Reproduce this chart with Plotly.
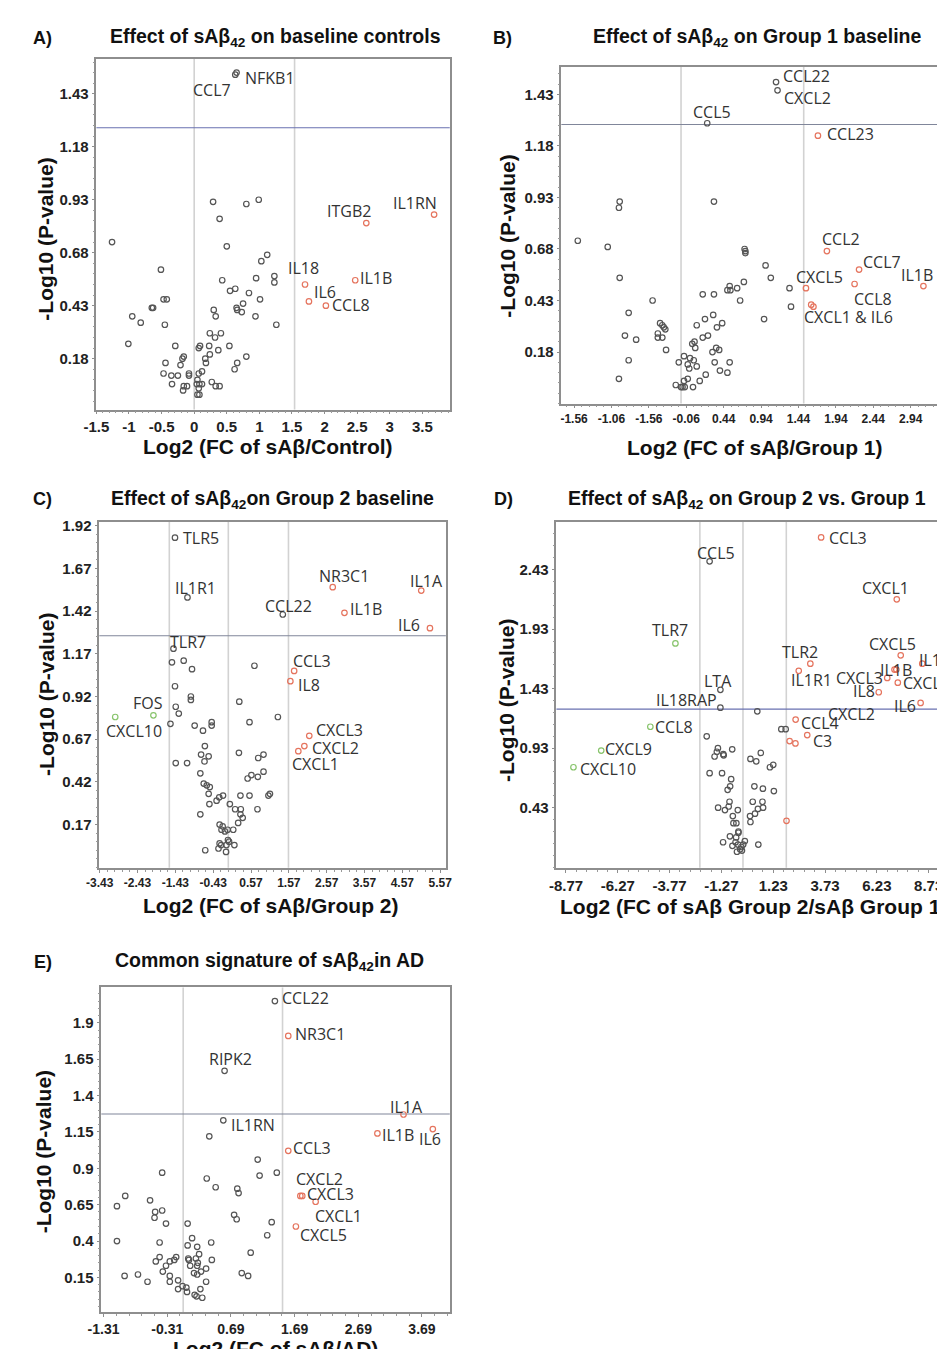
import plotly.graph_objects as go

W, H = 945, 1349
AX_FONT = "Liberation Sans, Arial, sans-serif"
LAB_FONT = "Open Sans, sans-serif"

# ---------------- Panel A : sAb42 vs baseline controls ----------------
A_x = [-1.26, -0.51, 0.29, 0.80, 0.99, 0.39, 0.50, 1.12, 1.03, 1.23, 1.23, 0.95, 0.43, 0.63, 0.55, 0.84,
       1.01, 0.75, 0.65, 0.66, 0.73, 0.94, 1.26, 0.30, 0.33, -0.47, -0.42, -0.65, -0.63, -0.95, -0.82, -0.45,
       -1.01, -0.29, 0.24, 0.32, 0.41, 0.07, 0.09, 0.23, 0.37, 0.54, 0.17, 0.18, 0.24, 0.80, 0.66, 0.62,
       -0.16, -0.18, -0.21, -0.44, -0.47, -0.35, -0.25, -0.08, -0.08, 0.07, 0.12, -0.34, -0.17, -0.16, -0.11,
       0.04, 0.08, 0.12, 0.05, 0.07, 0.05, 0.08, 0.27, 0.33, 0.39]
A_y = [0.73, 0.60, 0.92, 0.91, 0.93, 0.84, 0.71, 0.67, 0.64, 0.57, 0.54, 0.56, 0.55, 0.51, 0.50, 0.49,
       0.46, 0.44, 0.42, 0.41, 0.40, 0.38, 0.34, 0.41, 0.38, 0.46, 0.46, 0.42, 0.42, 0.38, 0.35, 0.34,
       0.25, 0.24, 0.30, 0.28, 0.30, 0.23, 0.24, 0.24, 0.22, 0.24, 0.18, 0.16, 0.20, 0.19, 0.16, 0.13,
       0.19, 0.18, 0.15, 0.16, 0.11, 0.10, 0.10, 0.11, 0.10, 0.11, 0.12, 0.06, 0.03, 0.05, 0.05,
       0.06, 0.06, 0.06, 0.08, 0.04, 0.01, 0.01, 0.07, 0.05, 0.05]
A_gene = ["CCL7", "NFKB1", "ITGB2", "IL1RN", "IL18", "IL6", "CCL8", "IL1B"]
A_gene_x = [0.63, 0.65, 2.64, 3.68, 1.70, 1.76, 2.02, 2.47]
A_gene_y = [1.52, 1.53, 0.82, 0.86, 0.53, 0.45, 0.43, 0.55]
A_gene_dir = ["ns", "ns", "up", "up", "up", "up", "up", "up"]
A_xtick = [-1.5, -1, -0.5, 0, 0.5, 1, 1.5, 2, 2.5, 3, 3.5]
A_xtext = ["-1.5", "-1", "-0.5", "0", "0.5", "1", "1.5", "2", "2.5", "3", "3.5"]
A_ytick = [0.18, 0.43, 0.68, 0.93, 1.18, 1.43]
A_vlines = [0.0, 1.54]
A_hline = 1.27

# ---------------- Panel B : Group 1 baseline ----------------
B_x = [-1.51, -0.95, -0.96, -1.11, -0.95, -0.51, 0.31, -0.83, -0.88, -0.73, -0.83, -0.96, -0.41, -0.38, -0.36,
       -0.34, -0.44, -0.44, -0.38, -0.33, -0.20, -0.16, -0.13, -0.11, -0.08, -0.09, -0.09, -0.04, -0.04, -0.02,
       -0.01, 0.04, 0.03, 0.08, 0.12, 0.20, 0.06, 0.05, 0.02, 0.08, 0.16, 0.19, 0.23, 0.30, 0.35, 0.42, 0.29,
       0.34, 0.38, 0.32, 0.39, 0.52, 0.49, 0.16, 0.31, 0.49, 0.53, 0.52, 0.62, 0.71, 0.66, 0.72, 0.73, 0.73,
       1.00, 1.07, 0.98, 1.32, 1.34]
B_y = [0.72, 0.91, 0.88, 0.69, 0.54, 0.43, 0.91, 0.37, 0.26, 0.24, 0.14, 0.05, 0.32, 0.31, 0.30,
       0.29, 0.27, 0.25, 0.25, 0.19, 0.02, 0.13, 0.01, 0.01, 0.01, 0.16, 0.04, 0.05, 0.12, 0.10,
       0.15, 0.14, 0.01, 0.11, 0.04, 0.07, 0.20, 0.23, 0.22, 0.31, 0.25, 0.34, 0.26, 0.36, 0.30, 0.32, 0.18,
       0.20, 0.19, 0.13, 0.09, 0.13, 0.08, 0.46, 0.46, 0.48, 0.48, 0.50, 0.49, 0.52, 0.43, 0.68, 0.67, 0.66,
       0.60, 0.54, 0.34, 0.49, 0.40]
B_gene = ["CCL22", "CXCL2", "CCL5", "CCL23", "CCL2", "CCL7", "IL1B", "CXCL5", "CCL8", "CXCL1", "IL6"]
B_gene_x = [1.14, 1.16, 0.22, 1.70, 1.82, 2.25, 3.11, 1.54, 2.19, 1.61, 1.64]
B_gene_y = [1.49, 1.45, 1.29, 1.23, 0.67, 0.58, 0.50, 0.49, 0.51, 0.41, 0.40]
B_gene_dir = ["ns", "ns", "ns", "up", "up", "up", "up", "up", "up", "up", "up"]
B_xtick = [-1.56, -1.06, -0.56, -0.06, 0.44, 0.94, 1.44, 1.94, 2.44, 2.94]
B_xtext = ["-1.56", "-1.06", "-1.56", "-0.06", "0.44", "0.94", "1.44", "1.94", "2.44", "2.94"]
B_ytick = [0.18, 0.43, 0.68, 0.93, 1.18, 1.43]
B_vlines = [-0.13, 1.51]
B_hline = 1.284

# ---------------- Panel C : Group 2 baseline ----------------
C_x = [-1.52, -1.21, -0.99, -1.44, -1.02, -1.02, -1.42, -1.34, -1.56, -0.92, -0.47, -0.47, -0.70, -0.65,
       -0.75, -0.66, -0.55, -1.42, -1.12, -0.77, -0.68, -0.60, -0.52, -0.55, -0.53, -0.77, -0.34, -0.27,
       -0.17, 0.01, 0.15, 0.30, 0.29, 0.53, 0.29, 0.35, 0.23, 0.10, 0.74, -0.26, -0.18, -0.21, -0.05, -0.12,
       -0.26, -0.22, -0.04, -0.01, -0.08, 0.13, -0.29, -0.09, -0.64, 0.48, 0.58, 0.75, 0.90, 0.76, 0.90,
       0.25, 0.53, 0.26, 0.66, 1.28, 1.03, 1.07]
C_y = [1.12, 1.13, 1.08, 0.98, 0.92, 0.90, 0.86, 0.82, 0.76, 0.75, 0.77, 0.75, 0.72, 0.63,
       0.58, 0.54, 0.57, 0.53, 0.53, 0.47, 0.41, 0.40, 0.39, 0.35, 0.29, 0.23, 0.31, 0.33,
       0.34, 0.29, 0.26, 0.26, 0.34, 0.34, 0.23, 0.21, 0.18, 0.14, 0.26, 0.17, 0.16, 0.14, 0.14, 0.13,
       0.06, 0.05, 0.08, 0.07, 0.05, 0.05, 0.03, 0.01, 0.02, 0.44, 0.46, 0.45, 0.48, 0.56, 0.58,
       0.59, 0.77, 0.89, 1.10, 0.80, 0.34, 0.35]
C_gene = ["TLR5", "IL1R1", "CCL22", "TLR7", "NR3C1", "IL1B", "IL1A", "IL6", "CCL3", "IL8", "CXCL3",
          "CXCL2", "CXCL1", "FOS", "CXCL10"]
C_gene_x = [-1.44, -1.11, 1.41, -1.48, 2.73, 3.04, 5.07, 5.30, 1.71, 1.61, 2.11, 1.98, 1.82, -2.01, -3.02]
C_gene_y = [1.85, 1.50, 1.40, 1.20, 1.56, 1.41, 1.54, 1.32, 1.07, 1.01, 0.69, 0.63, 0.60, 0.81, 0.80]
C_gene_dir = ["ns", "ns", "ns", "ns", "up", "up", "up", "up", "up", "up", "up", "up", "up", "down", "down"]
C_xtick = [-3.43, -2.43, -1.43, -0.43, 0.57, 1.57, 2.57, 3.57, 4.57, 5.57]
C_xtext = ["-3.43", "-2.43", "-1.43", "-0.43", "0.57", "1.57", "2.57", "3.57", "4.57", "5.57"]
C_ytick = [0.17, 0.42, 0.67, 0.92, 1.17, 1.42, 1.67, 1.92]
C_vlines = [-1.59, -0.03, 1.56]
C_hline = 1.276

# ---------------- Panel D : Group 2 vs Group 1 ----------------
D_x = [0.46, -1.98, -1.44, -1.49, -1.60, -1.16, -1.18, -0.75, 0.63, 0.13, 0.41, 1.23, 1.07, -1.84, -1.24,
       -0.80, -0.85, -0.97, 0.32, 0.73, 1.26, -1.43, -1.10, -0.88, -0.92, -0.48, 0.24, 0.71, 0.74, 0.49,
       0.35, 0.11, -0.72, -0.55, -0.69, 0.13, -0.45, -0.45, -0.86, -0.56, -1.19, -0.59, -0.47, -0.74,
       -0.31, -0.22, -0.14, -0.37, -0.28, -0.52, 0.51, 1.62, 1.83]
D_y = [1.24, 1.03, 0.93, 0.90, 0.86, 0.87, 0.88, 0.92, 0.89, 0.84, 0.82, 0.79, 0.77, 0.72, 0.72,
       0.67, 0.61, 0.58, 0.61, 0.59, 0.57, 0.43, 0.41, 0.48, 0.44, 0.41, 0.48, 0.48, 0.43, 0.42,
       0.38, 0.36, 0.36, 0.30, 0.30, 0.31, 0.23, 0.22, 0.19, 0.18, 0.14, 0.14, 0.12, 0.11,
       0.10, 0.12, 0.15, 0.08, 0.07, 0.06, 0.12, 1.09, 1.09]
D_up_x = [1.87, 2.02, 2.30]
D_up_y = [0.32, 0.99, 0.97]
D_gene = ["CCL3", "CCL5", "CXCL1", "TLR7", "TLR2", "CXCL5", "IL1A", "IL1B", "CXCL2", "CXCL3", "CXCL6",
          "IL8", "IL6", "IL1R1", "LTA", "IL18RAP", "CCL8", "CCL4", "C3", "CXCL9", "CXCL10"]
D_gene_x = [3.54, -1.84, 7.19, -3.49, 3.02, 7.38, 8.42, 7.08, 7.17, 6.73, 7.24,
            6.32, 8.34, 2.46, -1.32, -1.32, -4.70, 2.31, 2.87, -7.07, -8.41]
D_gene_y = [2.70, 2.50, 2.18, 1.81, 1.64, 1.71, 1.64, 1.59, 1.59, 1.52, 1.48,
            1.40, 1.31, 1.58, 1.42, 1.27, 1.11, 1.17, 1.04, 0.91, 0.77]
D_gene_dir = ["up", "ns", "up", "down", "up", "up", "up", "up", "up", "up", "up",
              "up", "up", "up", "ns", "ns", "down", "up", "up", "down", "down"]
D_xtick = [-8.77, -6.27, -3.77, -1.27, 1.23, 3.73, 6.23, 8.73]
D_xtext = ["-8.77", "-6.27", "-3.77", "-1.27", "1.23", "3.73", "6.23", "8.73"]
D_ytick = [0.43, 0.93, 1.43, 1.93, 2.43]
D_vlines = [-2.31, -0.23, 1.86]
D_hline = 1.258

# ---------------- Panel E : common signature in AD ----------------
E_x = [0.35, 1.11, 1.14, 1.41, -0.39, 0.31, 0.45, 0.79, 0.81, -1.10, -0.97, -0.58, -0.50, -0.51, -0.39,
       -0.33, 0.01, 0.74, 0.78, 1.33, 1.26, -1.10, -0.43, 0.01, 0.08, 0.16, 0.38, 0.19, 0.02, 0.03, 0.14,
       0.17, 0.16, 0.39, 0.05, -0.43, -0.49, -0.33, -0.27, -0.20, -0.17, -0.38, -0.27, -0.27, -0.14, -0.14,
       -0.07, -0.01, 0.00, 0.11, 0.16, 0.22, 0.30, 0.30, 0.21, 0.12, 0.15, 0.24, -0.98, -0.77, -0.62, 0.86,
       0.96, 1.00]
E_y = [1.12, 0.96, 0.85, 0.87, 0.87, 0.83, 0.77, 0.76, 0.73, 0.64, 0.71, 0.68, 0.60, 0.56, 0.61,
       0.52, 0.52, 0.58, 0.55, 0.53, 0.44, 0.40, 0.39, 0.37, 0.42, 0.36, 0.39, 0.31, 0.28, 0.27, 0.28,
       0.25, 0.23, 0.27, 0.23, 0.29, 0.26, 0.23, 0.26, 0.27, 0.29, 0.19, 0.16, 0.12, 0.13, 0.07,
       0.09, 0.08, 0.05, 0.18, 0.17, 0.19, 0.21, 0.12, 0.07, 0.03, 0.02, 0.01, 0.16, 0.17, 0.12, 0.18,
       0.16, 0.32]
E_gene = ["CCL22", "NR3C1", "RIPK2", "IL1RN", "IL1A", "IL1B", "IL6", "CCL3", "CXCL2", "CXCL3", "CXCL1", "CXCL5"]
E_gene_x = [1.38, 1.59, 0.59, 0.57, 3.40, 2.99, 3.86, 1.59, 1.78, 1.81, 2.02, 1.71]
E_gene_y = [2.05, 1.81, 1.57, 1.23, 1.27, 1.14, 1.17, 1.02, 0.71, 0.71, 0.67, 0.50]
E_gene_dir = ["ns", "up", "ns", "ns", "up", "up", "up", "up", "up", "up", "up", "up"]
E_xtick = [-1.31, -0.31, 0.69, 1.69, 2.69, 3.69]
E_xtext = ["-1.31", "-0.31", "0.69", "1.69", "2.69", "3.69"]
E_ytick = [0.15, 0.4, 0.65, 0.9, 1.15, 1.4, 1.65, 1.9]
E_vlines = [-0.06, 1.50]
E_hline = 1.273

# ---------------- styles / layout ----------------
COLORS = {"ns": "#555555", "up": "#e5745e", "down": "#88c46c"}

# label offsets in pixels (dx, dy up, anchor); None text = no label
A_off = {"CCL7": (-2, -15, "right"), "NFKB1": (6, -5, "left"), "ITGB2": (-17, 12, "center"),
         "IL1RN": (-19, 12, "center"), "IL18": (-2, 16, "center"), "IL6": (3, 9, "left"),
         "CCL8": (4, 1, "left"), "IL1B": (3, 2, "left")}
B_off = {"CCL22": (5, 6, "left"), "CXCL2": (4, -8, "left"), "CCL5": (5, 11, "center"),
         "CCL23": (7, 2, "left"), "CCL2": (14, 12, "center"), "CCL7": (2, 8, "left"),
         "IL1B": (-6, 11, "center"), "CXCL5": (14, 11, "center"), "CCL8": (18, -15, "center"),
         "CXCL1": (37, -12, "center")}
B_text = {"CXCL1": "CXCL1 & IL6", "IL6": None}
C_off = {"TLR5": (6, 0, "left"), "IL1R1": (8, 9, "center"), "CCL22": (6, 9, "center"),
         "NR3C1": (11, 11, "center"), "IL1B": (4, 4, "left"), "IL1A": (5, 10, "center"),
         "IL6": (-8, 3, "right"), "TLR7": (15, 7, "center"), "CCL3": (18, 10, "center"),
         "IL8": (6, -4, "left"), "CXCL3": (5, 6, "left"), "CXCL2": (6, -2, "left"),
         "CXCL1": (17, -13, "center"), "FOS": (-5, 12, "center"), "CXCL10": (19, -14, "center")}
D_off = {"CCL3": (6, -1, "left"), "CCL5": (6, 8, "center"), "CXCL1": (-11, 11, "center"),
         "TLR7": (-5, 13, "center"), "TLR2": (-10, 12, "center"), "CXCL5": (-8, 11, "center"),
         "IL1A": (-5, 4, "left"), "IL1B": (2, 0, "center"), "CXCL2": (-45, -44, "center"),
         "CXCL3": (-2, 0, "right"), "CXCL6": (3, 0, "left"), "IL8": (-2, 1, "right"),
         "IL6": (-3, -3, "right"), "IL1R1": (13, -9, "center"), "LTA": (-2, 9, "center"),
         "IL18RAP": (-34, 8, "center"), "CCL8": (3, 0, "left"), "CCL4": (3, -3, "left"),
         "C3": (4, -6, "left"), "CXCL9": (2, 2, "left"), "CXCL10": (5, -2, "left")}
E_off = {"CCL22": (5, 3, "left"), "NR3C1": (5, 2, "left"), "RIPK2": (6, 12, "center"),
         "IL1RN": (6, -5, "left"), "IL1A": (3, 7, "center"), "IL1B": (3, -2, "left"),
         "IL6": (-3, -10, "center"), "CCL3": (3, 3, "left"), "CXCL2": (19, 17, "center"),
         "CXCL3": (3, 2, "left"), "CXCL1": (23, -14, "center"), "CXCL5": (28, -9, "center")}

panels = [
    dict(letter="A)", lpos=(21, 25), title="Effect of sAβ<sub>42</sub> on baseline controls", tpos=(259, 25),
         box=(76, 437, 46, 398), xr=(-1.5, 3.92), yr=(-0.06, 1.595),
         gx=A_x, gy=A_y, extra=None, genes=(A_gene, A_gene_x, A_gene_y, A_gene_dir), off=A_off, txt={},
         xt=(A_xtick, A_xtext), yt=A_ytick, xfs=15, vl=A_vlines, hl=A_hline, hlc="#6870b0",
         xtitle="Log2 (FC of sAβ/Control)", xtpos=(251, 435), ytpos=(24, 227)),
    dict(letter="B)", lpos=(491, 25), title="Effect of sAβ<sub>42</sub> on Group 1 baseline", tpos=(751, 25),
         box=(551, 940, 54, 392), xr=(-1.73, 3.36), yr=(-0.07, 1.564),
         gx=B_x, gy=B_y, extra=None, genes=(B_gene, B_gene_x, B_gene_y, B_gene_dir), off=B_off, txt=B_text,
         xt=(B_xtick, B_xtext), yt=B_ytick, xfs=12, vl=B_vlines, hl=B_hline, hlc="#80869a",
         xtitle="Log2 (FC of sAβ/Group 1)", xtpos=(748, 436), ytpos=(496, 224)),
    dict(letter="C)", lpos=(21, 488), title="Effect of sAβ<sub>42</sub>on Group 2 baseline", tpos=(256, 488),
         box=(79, 433, 511, 858), xr=(-3.44, 5.72), yr=(-0.083, 1.941),
         gx=C_x, gy=C_y, extra=None, genes=(C_gene, C_gene_x, C_gene_y, C_gene_dir), off=C_off, txt={},
         xt=(C_xtick, C_xtext), yt=C_ytick, xfs=12, vl=C_vlines, hl=C_hline, hlc="#80869a",
         xtitle="Log2 (FC of sAβ/Group 2)", xtpos=(254, 896), ytpos=(25, 684)),
    dict(letter="D)", lpos=(492, 488), title="Effect of sAβ<sub>42</sub> on Group 2 vs. Group 1", tpos=(741, 488),
         box=(546, 939, 511, 858), xr=(-9.23, 9.33), yr=(-0.075, 2.829),
         gx=D_x, gy=D_y, extra=(D_up_x, D_up_y), genes=(D_gene, D_gene_x, D_gene_y, D_gene_dir), off=D_off, txt={},
         xt=(D_xtick, D_xtext), yt=D_ytick, xfs=15, vl=D_vlines, hl=D_hline, hlc="#6870b0",
         xtitle="Log2 (FC of sAβ Group 2/sAβ Group 1)", xtpos=(747, 897), ytpos=(495, 690)),
    dict(letter="E)", lpos=(21, 953), title="Common signature of sAβ<sub>42</sub>in AD", tpos=(253, 952),
         box=(81, 437, 978, 1304), xr=(-1.346, 4.126), yr=(-0.089, 2.144),
         gx=E_x, gy=E_y, extra=None, genes=(E_gene, E_gene_x, E_gene_y, E_gene_dir), off=E_off, txt={},
         xt=(E_xtick, E_xtext), yt=E_ytick, xfs=14, vl=E_vlines, hl=E_hline, hlc="#80869a",
         xtitle="Log2 (FC of sAβ/AD)", xtpos=(259, 1340), ytpos=(22, 1143)),
]

fig = go.Figure()
layout = dict(width=W, height=H, margin=dict(l=0, r=0, t=0, b=0),
              paper_bgcolor="white", plot_bgcolor="white", showlegend=False)
annotations, shapes = [], []


def px(x):
    return x / W


def py(y):
    return 1 - y / H


mk = lambda c: dict(symbol="circle-open", size=5.5, color=c, line=dict(width=1.2, color=c))

for i, p in enumerate(panels, start=1):
    sx = "" if i == 1 else str(i)
    xref, yref = "x" + sx, "y" + sx
    x0, x1, y0, y1 = p["box"]
    axline = dict(showline=True, mirror=True, linecolor="#8e8e8e", linewidth=1.5,
                  showgrid=False, zeroline=False, ticks="outside", ticklen=3, tickcolor="#8e8e8e",
                  tickfont=dict(family=AX_FONT, size=15, color="#222", weight="bold"))
    xt, xtt = p["xt"]
    layout["xaxis" + sx] = dict(axline, domain=[px(x0), px(x1)], range=list(p["xr"]), anchor=yref,
                                tickmode="array", tickvals=xt, ticktext=xtt,
                                tickfont=dict(family=AX_FONT, size=p["xfs"], color="#222", weight="bold"),
                                minor=dict(ticks="outside", ticklen=2, tickcolor="#9a9a9a",
                                           tick0=xt[0], dtick=(xt[1] - xt[0]) / 5))
    yt = p["yt"]
    layout["yaxis" + sx] = dict(axline, domain=[py(y1), py(y0)], range=list(p["yr"]), anchor=xref,
                                tickmode="array", tickvals=yt, ticktext=[("%g" % v) for v in yt],
                                minor=dict(ticks="outside", ticklen=2, tickcolor="#9a9a9a",
                                           tick0=yt[0], dtick=(yt[1] - yt[0]) / 5))
    for v in p["vl"]:
        shapes.append(dict(type="line", xref=xref, yref=yref + " domain", x0=v, x1=v, y0=0, y1=1,
                           line=dict(color="#d2d2d2", width=1.6), layer="below"))
    shapes.append(dict(type="line", xref=xref + " domain", yref=yref, x0=0, x1=1, y0=p["hl"], y1=p["hl"],
                       line=dict(color=p["hlc"], width=1.1), layer="below"))
    fig.add_trace(go.Scatter(x=p["gx"], y=p["gy"], mode="markers", marker=mk(COLORS["ns"]),
                             xaxis=xref, yaxis=yref, hoverinfo="skip"))
    if p["extra"]:
        fig.add_trace(go.Scatter(x=p["extra"][0], y=p["extra"][1], mode="markers", marker=mk(COLORS["up"]),
                                 xaxis=xref, yaxis=yref, hoverinfo="skip"))
    names, gxs, gys, dirs = p["genes"]
    for d in ("ns", "up", "down"):
        xs = [gx for gx, dd in zip(gxs, dirs) if dd == d]
        ys = [gy for gy, dd in zip(gys, dirs) if dd == d]
        if xs:
            fig.add_trace(go.Scatter(x=xs, y=ys, mode="markers", marker=mk(COLORS[d]),
                                     xaxis=xref, yaxis=yref, hoverinfo="skip"))
    for n, gx, gy in zip(names, gxs, gys):
        t = p["txt"].get(n, n)
        if t is None or n not in p["off"]:
            continue
        dx, dy, anc = p["off"][n]
        annotations.append(dict(x=gx, y=gy, xref=xref, yref=yref, text=t, showarrow=False,
                                xanchor=anc, yanchor="middle", xshift=dx, yshift=dy,
                                font=dict(family=LAB_FONT, size=16, color="#333")))
    # titles
    annotations.append(dict(x=px(p["lpos"][0]), y=py(p["lpos"][1]), xref="paper", yref="paper",
                            text=p["letter"], showarrow=False, xanchor="center", yanchor="middle",
                            font=dict(family=AX_FONT, size=18, color="#111", weight="bold")))
    annotations.append(dict(x=px(p["tpos"][0]), y=py(p["tpos"][1]), xref="paper", yref="paper",
                            text=p["title"], showarrow=False, xanchor="center", yanchor="middle",
                            font=dict(family=AX_FONT, size=19.5, color="#111", weight="bold")))
    annotations.append(dict(x=px(p["xtpos"][0]), y=py(p["xtpos"][1]), xref="paper", yref="paper",
                            text=p["xtitle"], showarrow=False, xanchor="center", yanchor="middle",
                            font=dict(family=AX_FONT, size=21, color="#111", weight="bold")))
    annotations.append(dict(x=px(p["ytpos"][0]), y=py(p["ytpos"][1]), xref="paper", yref="paper",
                            text="-Log10 (P-value)", showarrow=False, textangle=-90,
                            xanchor="center", yanchor="middle",
                            font=dict(family=AX_FONT, size=21, color="#111", weight="bold")))

layout["annotations"] = annotations
layout["shapes"] = shapes
fig.update_layout(**layout)
fig.write_html("out.html")
